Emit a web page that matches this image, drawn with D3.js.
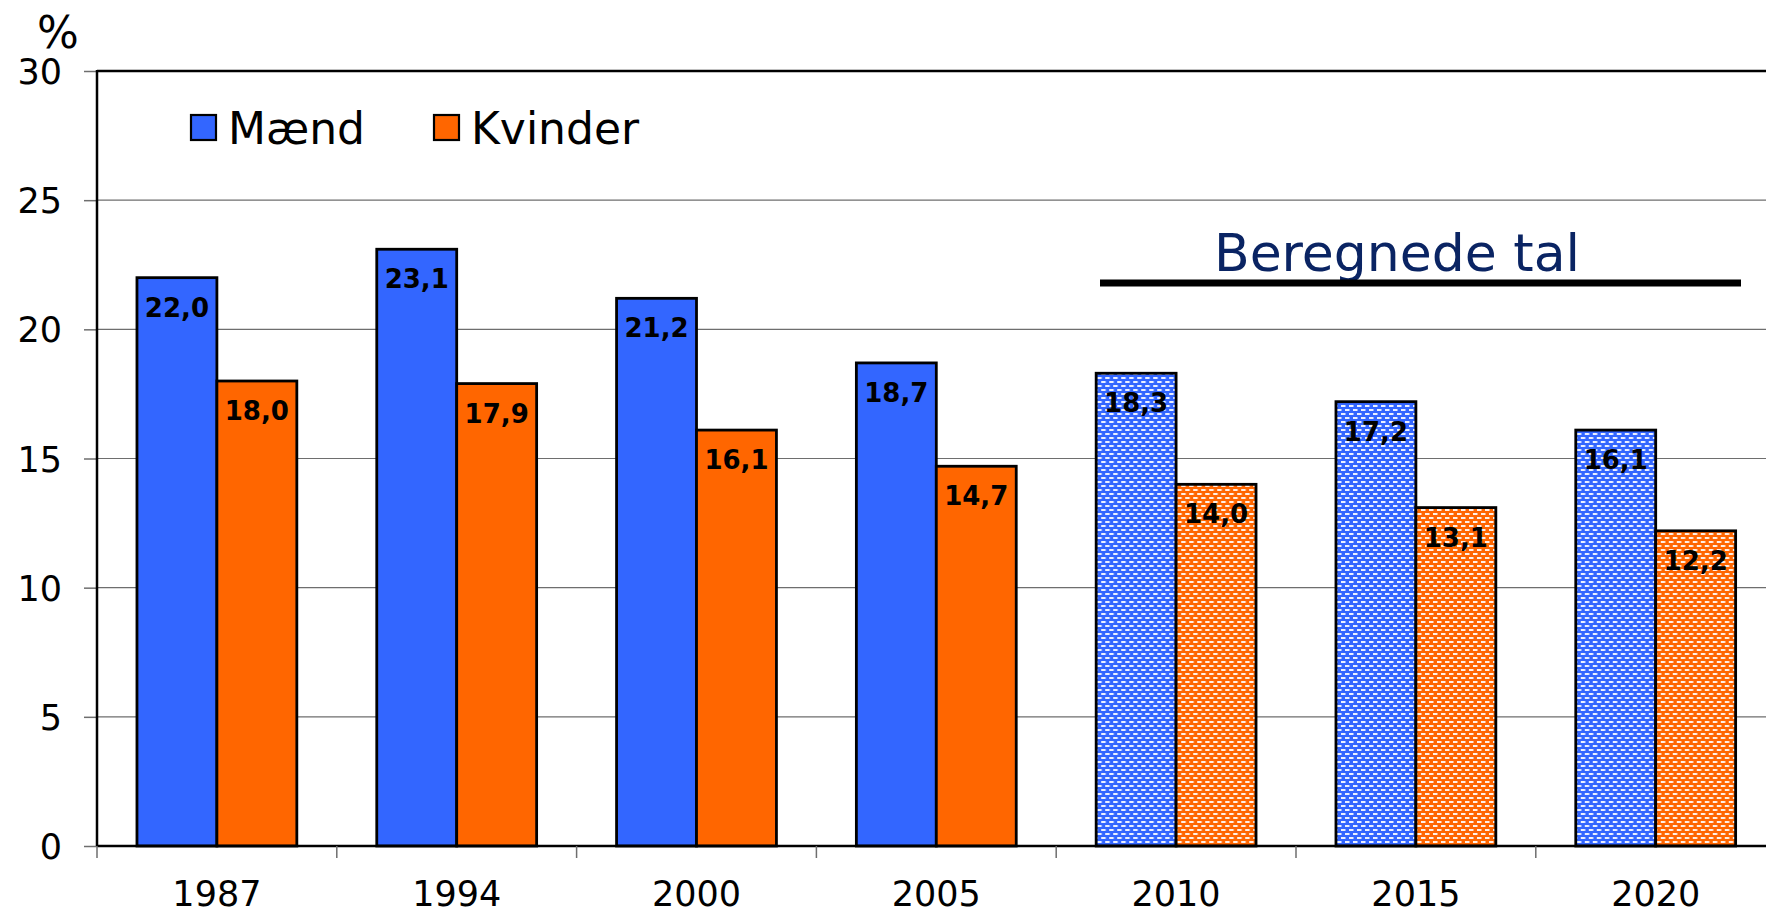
<!DOCTYPE html>
<html>
<head>
<meta charset="utf-8">
<script src="https://cdn.jsdelivr.net/npm/d3@7"></script>
<style>
  body { margin: 0; background: #fff; }
  text { font-family: "DejaVu Sans", Verdana, sans-serif; }
</style>
</head>
<body>
<div id="chart"></div>
<script>
// data
const years = ["1987", "1994", "2000", "2005", "2010", "2015", "2020"];
const maend = [22.0, 23.1, 21.2, 18.7, 18.3, 17.2, 16.1];
const kvinder = [18.0, 17.9, 16.1, 14.7, 14.0, 13.1, 12.2];
const beregnet = [false, false, false, false, true, true, true];
const seriesNames = ["Mænd", "Kvinder"];
const yTicks = [0, 5, 10, 15, 20, 25, 30];

function drawChart() {

    // 1. dimensions
    const dimensions = {
        width: 1766,
        height: 913,
        margin: { top: 71, left: 97, bottom: 67 },
    };
    dimensions.bandWidth = 239.8;
    dimensions.plotRight = dimensions.margin.left + years.length * dimensions.bandWidth;
    const zeroY = dimensions.height - dimensions.margin.bottom;

    const colors = { "Mænd": "#3366ff", "Kvinder": "#ff6600" };

    // 2. canvas
    const chart = d3.select("#chart")
        .append("svg")
        .attr("width", dimensions.width)
        .attr("height", dimensions.height);

    // dotted patterns for the calculated years
    const defs = chart.append("defs");
    seriesNames.forEach((s, i) => {
        const p = defs.append("pattern")
            .attr("id", "pat" + i)
            .attr("patternUnits", "userSpaceOnUse")
            .attr("width", 8)
            .attr("height", 8);
        p.append("rect").attr("width", 8).attr("height", 8).attr("fill", colors[s]);
        [[1, 1], [5, 5], [-3, 5]].forEach(([dx, dy]) => {
            p.append("rect").attr("x", dx).attr("y", dy).attr("width", 4.5).attr("height", 2)
                .attr("fill", "#fff").attr("fill-opacity", 0.9);
        });
    });

    // 3. scales
    const x = d3.scaleBand()
        .domain(years)
        .range([dimensions.margin.left, dimensions.plotRight])
        .padding(0);

    const x1 = d3.scaleBand()
        .domain(seriesNames)
        .range([0, x.bandwidth()])
        .paddingInner(0)
        .paddingOuter(0.5);

    const y = d3.scaleLinear()
        .domain([0, 30])
        .range([zeroY, dimensions.margin.top]);

    // 4. gridlines
    chart.append("g")
        .selectAll("line")
        .data(yTicks.filter(d => d > 0 && d < 30))
        .join("line")
        .attr("x1", dimensions.margin.left)
        .attr("x2", dimensions.width)
        .attr("y1", d => y(d))
        .attr("y2", d => y(d))
        .attr("stroke", "#6e6e6e")
        .attr("stroke-width", 1.2);

    // top border
    chart.append("line")
        .attr("x1", dimensions.margin.left)
        .attr("x2", dimensions.width)
        .attr("y1", y(30))
        .attr("y2", y(30))
        .attr("stroke", "#000")
        .attr("stroke-width", 2.5);

    // 5. bars
    const rows = years.map((yr, i) => ({
        year: yr,
        est: beregnet[i],
        values: [
            { key: "Mænd", v: maend[i], idx: 0 },
            { key: "Kvinder", v: kvinder[i], idx: 1 },
        ],
    }));

    const groups = chart.append("g")
        .selectAll("g")
        .data(rows)
        .join("g")
        .attr("transform", d => `translate(${x(d.year)},0)`);

    groups.selectAll("rect")
        .data(d => d.values.map(v => ({ ...v, est: d.est })))
        .join("rect")
        .attr("x", d => x1(d.key))
        .attr("y", d => y(d.v))
        .attr("width", x1.bandwidth())
        .attr("height", d => y(0) - y(d.v))
        .attr("fill", d => d.est ? `url(#pat${d.idx})` : colors[d.key])
        .attr("stroke", "#000")
        .attr("stroke-width", 2.8);

    groups.selectAll("text")
        .data(d => d.values)
        .join("text")
        .attr("x", d => x1(d.key) + x1.bandwidth() / 2)
        .attr("y", d => y(d.v) + 39)
        .attr("text-anchor", "middle")
        .style("font-size", "26px")
        .style("font-weight", "bold")
        .style("fill", "#000")
        .text(d => d3.format(".1f")(d.v).replace(".", ","));

    // 6. axes
    const yAxis = chart.append("g")
        .attr("transform", `translate(${dimensions.margin.left},0)`)
        .call(d3.axisLeft(y).tickValues(yTicks).tickSize(13).tickPadding(22).tickFormat(d3.format("d")));
    yAxis.select(".domain").remove();
    yAxis.selectAll(".tick line").attr("stroke", "#6e6e6e").attr("stroke-width", 1.5);
    yAxis.selectAll(".tick text")
        .attr("fill", "#000")
        .style("font-size", "35px")
        .style("font-family", "'DejaVu Sans', Verdana, sans-serif")
        .attr("dy", "0.36em");

    chart.append("line")
        .attr("x1", dimensions.margin.left)
        .attr("x2", dimensions.margin.left)
        .attr("y1", y(30) - 1)
        .attr("y2", y(0))
        .attr("stroke", "#000")
        .attr("stroke-width", 2.5);

    // x baseline
    chart.append("line")
        .attr("x1", dimensions.margin.left)
        .attr("x2", dimensions.width)
        .attr("y1", y(0))
        .attr("y2", y(0))
        .attr("stroke", "#000")
        .attr("stroke-width", 2.5);

    // x ticks at band edges
    chart.append("g")
        .selectAll("line")
        .data(years)
        .join("line")
        .attr("x1", d => x(d))
        .attr("x2", d => x(d))
        .attr("y1", y(0))
        .attr("y2", y(0) + 12)
        .attr("stroke", "#6e6e6e")
        .attr("stroke-width", 1.5);

    chart.append("g")
        .selectAll("text")
        .data(years)
        .join("text")
        .attr("x", d => x(d) + x.bandwidth() / 2)
        .attr("y", 906)
        .attr("text-anchor", "middle")
        .style("font-size", "35px")
        .style("fill", "#000")
        .text(d => d);

    // 7. peripherals
    chart.append("text")
        .attr("x", 58)
        .attr("y", 48)
        .attr("text-anchor", "middle")
        .style("font-size", "44px")
        .text("%");

    const legend = chart.append("g")
        .selectAll("g")
        .data(seriesNames)
        .join("g")
        .attr("transform", (d, i) => `translate(${[191, 434][i]},115)`);

    legend.append("rect")
        .attr("width", 25)
        .attr("height", 25)
        .attr("fill", d => colors[d])
        .attr("stroke", "#000")
        .attr("stroke-width", 2.2);

    legend.append("text")
        .attr("x", 37)
        .attr("y", 29)
        .style("font-size", "44px")
        .style("fill", "#000")
        .text(d => d);

    // calculated years marker
    chart.append("text")
        .attr("x", 1397)
        .attr("y", 271)
        .attr("text-anchor", "middle")
        .style("font-size", "52px")
        .style("fill", "#0a2463")
        .text("Beregnede tal");

    chart.append("line")
        .attr("x1", 1100)
        .attr("x2", 1741)
        .attr("y1", 283)
        .attr("y2", 283)
        .attr("stroke", "#000")
        .attr("stroke-width", 7);
}

drawChart();
</script>
</body>
</html>
